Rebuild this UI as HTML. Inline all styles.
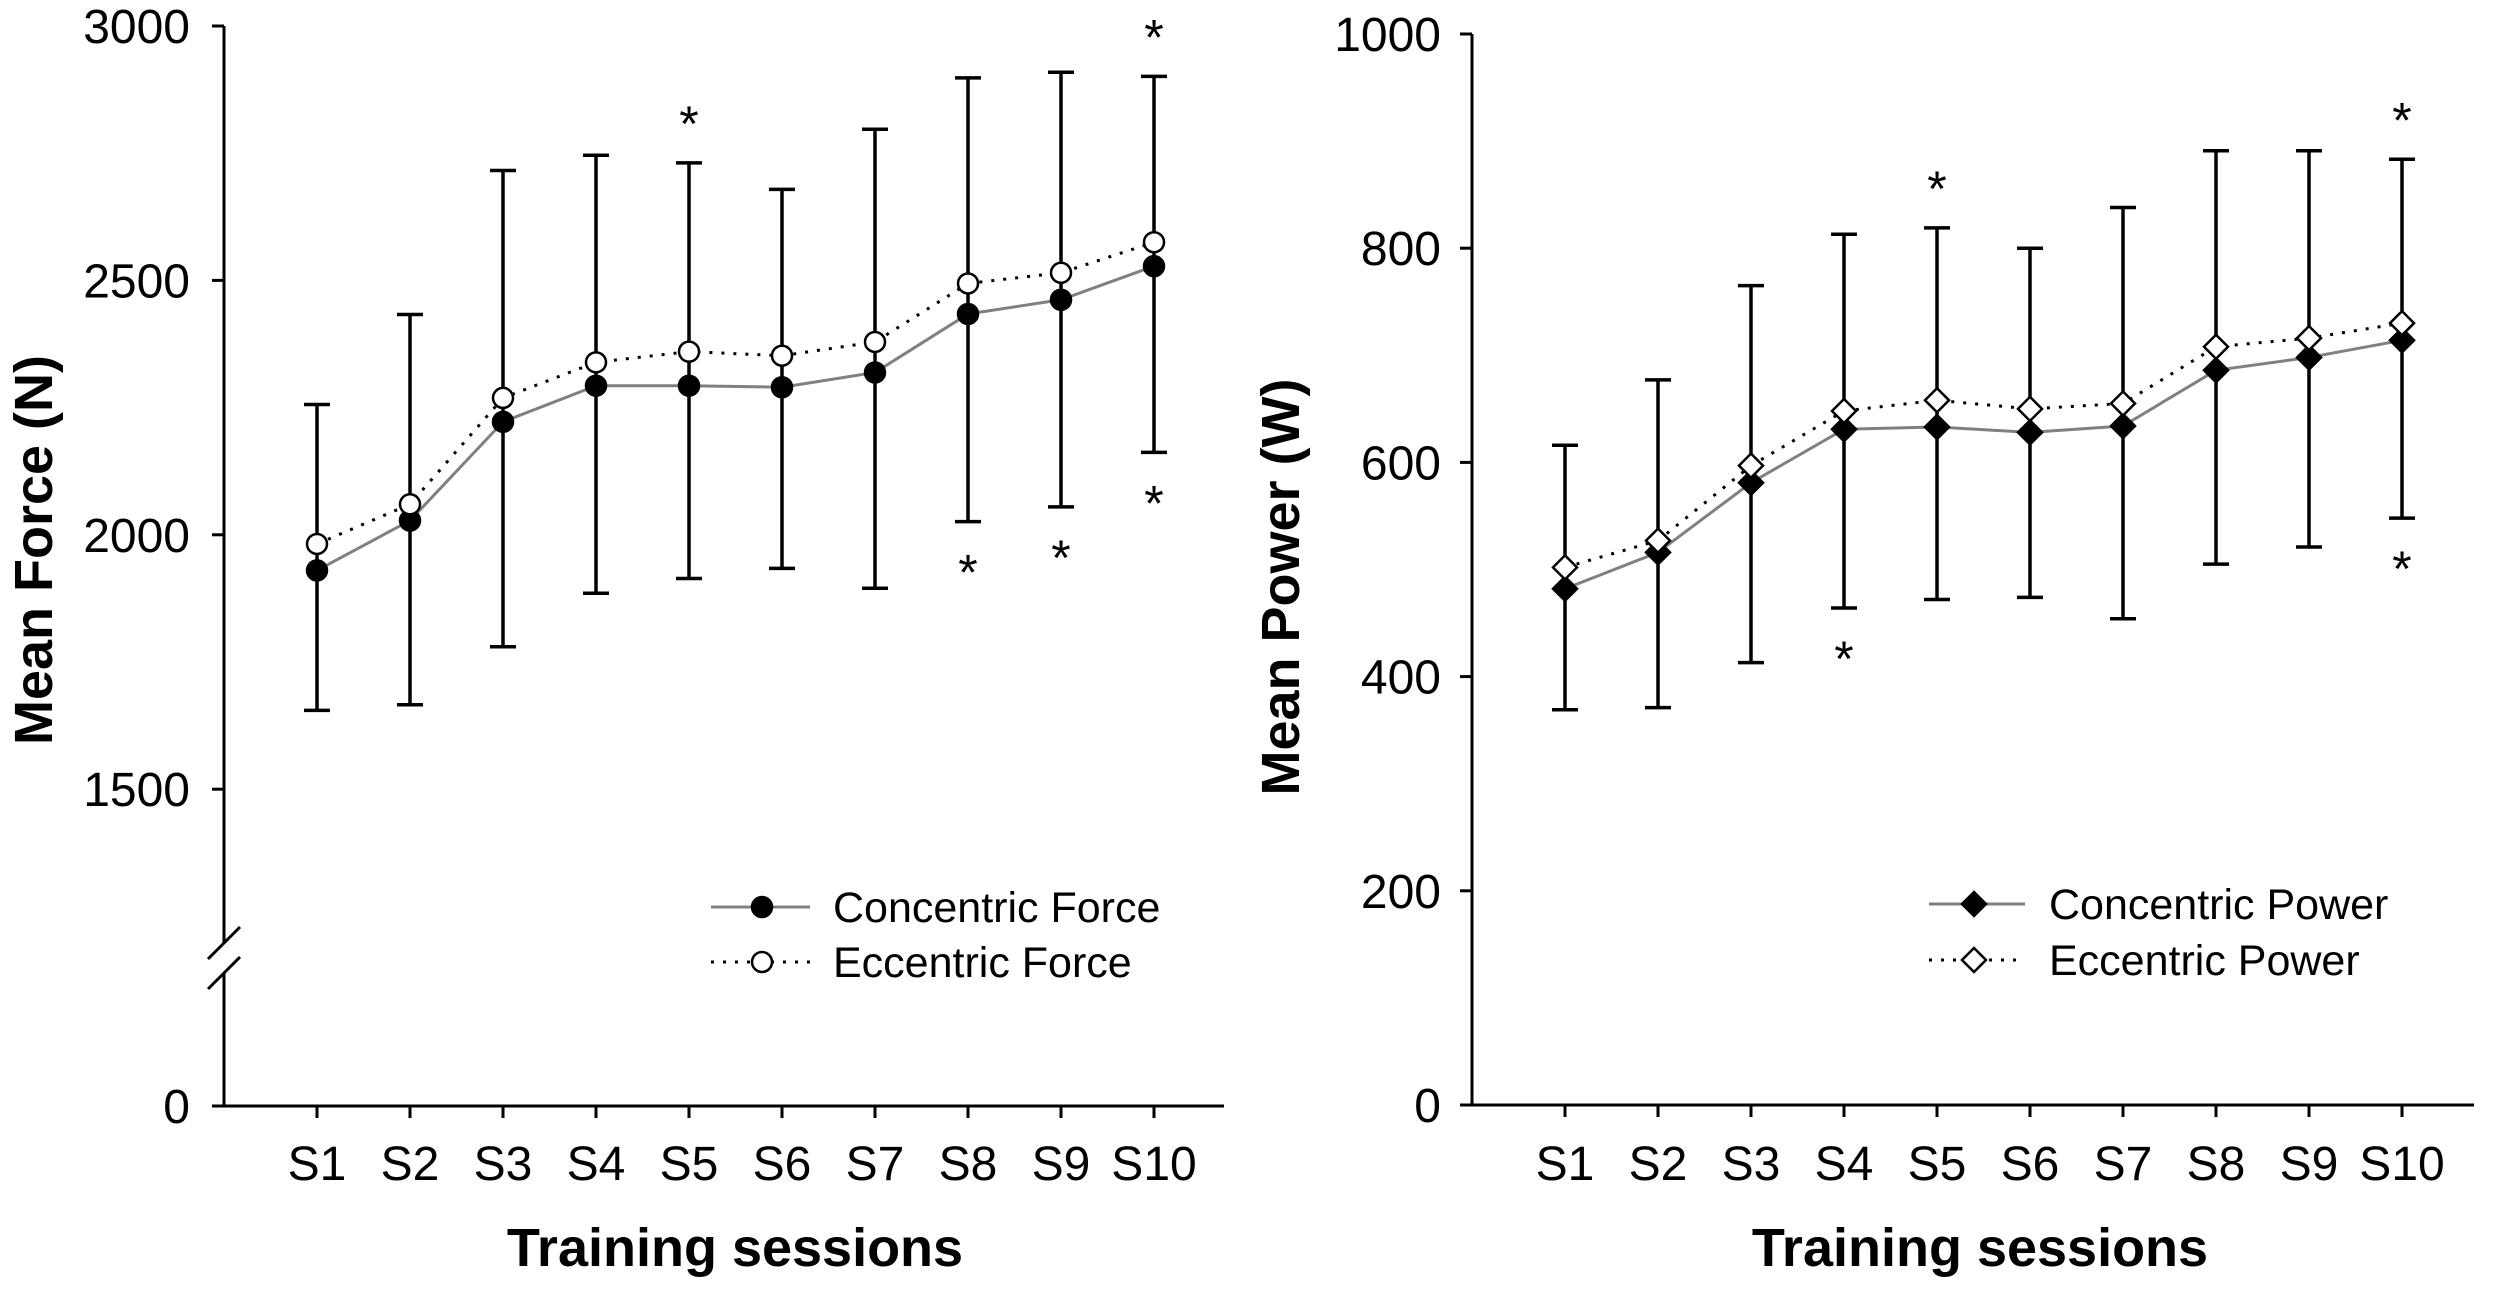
<!DOCTYPE html>
<html><head><meta charset="utf-8">
<style>
html,body{margin:0;padding:0;background:#fff;}
svg{display:block;font-family:"Liberation Sans",Arial,sans-serif;}
</style></head>
<body>
<svg id="chart" width="2500" height="1295" viewBox="0 0 2500 1295" xmlns="http://www.w3.org/2000/svg">
<rect width="2500" height="1295" fill="#fff"/>
<g id="left"></g>
<g id="right"></g>
</svg>
<script>
const sessions = ["S1","S2","S3","S4","S5","S6","S7","S8","S9","S10"];
const forceConc = [1930,2028,2222,2293,2293,2290,2319,2434,2462,2528];
const forceEcc  = [1982,2060,2269,2339,2360,2352,2379,2494,2515,2575];
const forceHigh = [2256,2433,2716,2746,2731,2679,2797,2898,2909,2901];
const forceLow  = [1655,1666,1780,1885,1914,1934,1895,2026,2055,2162];
const forceStarsAbove = [4,9];
const forceStarsBelow = [7,8,9];
const forceTicks = [0,1500,2000,2500,3000];
const powerConc = [482,516,581,631,633,628,634,686,698,714];
const powerEcc  = [502,527,597,648,658,650,655,708,716,730];
const powerHigh = [616,677,765,813,819,800,838,891,891,883];
const powerLow  = [369,371,413,464,472,474,454,505,521,548];
const powerStarsAbove = [4,9];
const powerStarsBelow = [3,9];
const powerTicks = [0,200,400,600,800,1000];

const NS = "http://www.w3.org/2000/svg";
function mk(parent, tag, attrs, text){
  const e = document.createElementNS(NS, tag);
  for (const k in attrs) e.setAttribute(k, attrs[k]);
  if (text !== undefined) e.textContent = text;
  parent.appendChild(e);
  return e;
}

function drawPanel(g, cfg){
  const {axX, axEnd, base, x0, dx, yOf, ticks, conc, ecc, hi, lo, sa, sb, marker, yTitle, xTitleX, yTitleX, yTitleY, leg, names, labOff} = cfg;
  const xOf = i => x0 + i*dx;
  const axisTop = yOf(ticks[ticks.length-1]);
  if (cfg.breakY) {
    let a = mk(g,'line',{x1:axX,y1:axisTop,x2:axX,y2:cfg.breakY[0],stroke:'#000','stroke-width':3});
    
    
    let b = mk(g,'line',{x1:axX,y1:cfg.breakY[1],x2:axX,y2:base,stroke:'#000','stroke-width':3});
    
    
    cfg.breakY.forEach(cy=>{
      const br = mk(g,'line',{x1:axX-16,y1:cy+16,x2:axX+16,y2:cy-16,stroke:'#000','stroke-width':3});
      
      
    });
  } else {
    let a = mk(g,'line',{x1:axX,y1:axisTop,x2:axX,y2:base,stroke:'#000','stroke-width':3});
    
    
  }
  let xa = mk(g,'line',{x1:axX-12,y1:base,x2:axEnd,y2:base,stroke:'#000','stroke-width':3});
  
  
  ticks.forEach(t=>{
    const y = yOf(t);
    const tl = mk(g,'line',{x1:axX-12,y1:y,x2:axX,y2:y,stroke:'#000','stroke-width':3});
    
    
    const tx = mk(g,'text',{x:axX-labOff,y:y+17,'text-anchor':'end','font-size':48,fill:'#000'},String(t));
    
    
  });
  sessions.forEach((s,i)=>{
    const x = xOf(i);
    const tl = mk(g,'line',{x1:x,y1:base,x2:x,y2:base+12,stroke:'#000','stroke-width':3});
    
    
    const tx = mk(g,'text',{x:x,y:1180,'text-anchor':'middle','font-size':48,fill:'#000'},s);
    
    
  });
  const xt = mk(g,'text',{x:xTitleX,y:1266,'text-anchor':'middle','font-size':54,'font-weight':'bold',fill:'#000'},'Training sessions');
  
  
  const yt = mk(g,'text',{x:0,y:0,'text-anchor':'middle','font-size':54,'font-weight':'bold',fill:'#000',transform:`translate(${yTitleX},${yTitleY}) rotate(-90)`},yTitle);
  
  
  const pc = conc.map((v,i)=>`${xOf(i)},${yOf(v)}`).join(' ');
  const pe = ecc.map((v,i)=>`${xOf(i)},${yOf(v)}`).join(' ');
  const lc = mk(g,'polyline',{points:pc,fill:'none',stroke:'#808080','stroke-width':3});
  
  
  const le = mk(g,'polyline',{points:pe,fill:'none',stroke:'#000','stroke-width':3,'stroke-dasharray':'3,9'});
  
  
  hi.forEach((h,i)=>{
    const x = xOf(i), y1 = yOf(h), y2 = yOf(lo[i]);
    const eb = mk(g,'path',{d:`M${x},${y1}V${y2}M${x-13},${y1}H${x+13}M${x-13},${y2}H${x+13}`,stroke:'#000','stroke-width':3.5,fill:'none'});
    
    
  });
  function drawMarker(parent,x,y,filled){
    if (marker==='circle') return mk(parent,'circle',{cx:x,cy:y,r:10,fill:filled?'#000':'#fff',stroke:'#000','stroke-width':2.5});
    return mk(parent,'path',{d:`M${x},${y-12}L${x+12},${y}L${x},${y+12}L${x-12},${y}Z`,fill:filled?'#000':'#fff',stroke:'#000','stroke-width':2.5});
  }
  conc.forEach((v,i)=>{
    const m = drawMarker(g,xOf(i),yOf(v),true);
    
    
  });
  ecc.forEach((v,i)=>{
    const m = drawMarker(g,xOf(i),yOf(v),false);
    
    
  });
  sa.forEach(i=>{
    const st = mk(g,'text',{x:xOf(i),y:yOf(hi[i])-22,'text-anchor':'middle','font-size':50,fill:'#000'},'*');
    
    
  });
  sb.forEach(i=>{
    const st = mk(g,'text',{x:xOf(i),y:yOf(lo[i])+68,'text-anchor':'middle','font-size':50,fill:'#000'},'*');
    
    
  });
  const lg = mk(g,'g',{});
  
  
  const l1 = mk(lg,'line',{x1:leg.x1,y1:leg.y1,x2:leg.x2,y2:leg.y1,stroke:'#808080','stroke-width':3});
  
  
  const l2 = mk(lg,'line',{x1:leg.x1,y1:leg.y2,x2:leg.x2,y2:leg.y2,stroke:'#000','stroke-width':3,'stroke-dasharray':'3,9'});
  
  
  const m1 = drawMarker(lg,leg.mx,leg.y1,true);
  
  
  const m2 = drawMarker(lg,leg.mx,leg.y2,false);
  
  
  const t1 = mk(lg,'text',{x:leg.tx,y:leg.y1+15,'font-size':43,fill:'#000'},names[0]);
  
  
  const t2 = mk(lg,'text',{x:leg.tx,y:leg.y2+15,'font-size':43,fill:'#000'},names[1]);
  
  
}

const forceY = v => v===0 ? 1106 : 26 + (3000 - v) * 0.5088;
drawPanel(document.getElementById('left'), {
  axX:224, axEnd:1224, base:1106, x0:317, dx:93, yOf:forceY, ticks:forceTicks, labOff:34,
  conc:forceConc, ecc:forceEcc, hi:forceHigh, lo:forceLow, sa:forceStarsAbove, sb:forceStarsBelow,
  marker:'circle', yTitle:'Mean Force (N)', xTitleX:735, yTitleX:52, yTitleY:550,
  breakY:[943,973],
  leg:{x1:711,x2:810,mx:762,y1:907,y2:962,tx:833}, names:['Concentric Force','Eccentric Force']
});
const powerY = v => 1105 - v * 1.071;
drawPanel(document.getElementById('right'), {
  axX:1472, axEnd:2474, base:1105, x0:1565, dx:93, yOf:powerY, ticks:powerTicks, labOff:31,
  conc:powerConc, ecc:powerEcc, hi:powerHigh, lo:powerLow, sa:powerStarsAbove, sb:powerStarsBelow,
  marker:'diamond', yTitle:'Mean Power (W)', xTitleX:1980, yTitleX:1299, yTitleY:587,
  leg:{x1:1929,x2:2025,mx:1974,y1:904,y2:960,tx:2049}, names:['Concentric Power','Eccentric Power']
});
</script>
</body></html>
